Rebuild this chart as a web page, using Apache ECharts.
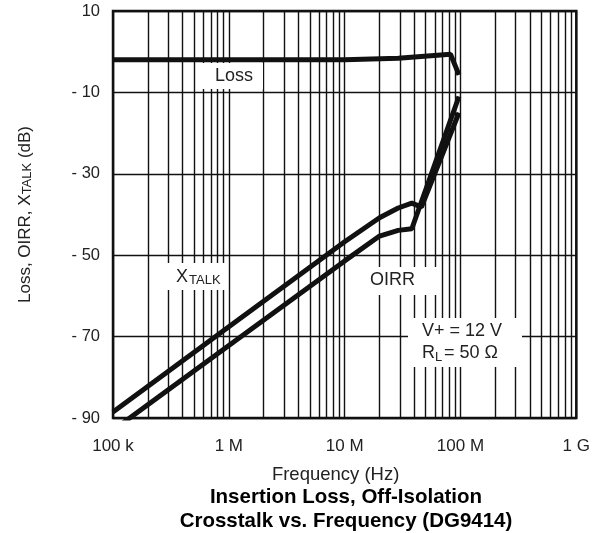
<!DOCTYPE html>
<html>
<head>
<meta charset="utf-8">
<script src="https://cdn.jsdelivr.net/npm/echarts@6/dist/echarts.min.js"></script>
<style>
  html, body { margin: 0; padding: 0; background: #fff; }
  #chart { width: 593px; height: 533px; }
</style>
</head>
<body>
<div id="chart"></div>
<script>
// 频率轴 (Hz)
const decadeTicks = [1e5, 1e6, 1e7, 1e8, 1e9]
const decadeLabels = ['100 k', '1 M', '10 M', '100 M', '1 G']
const minorSteps = [2, 3, 4, 5, 6, 7, 8, 9]

// Loss 曲线
const lossFreq = [1e5, 1e6, 1e7, 2.9e7, 8.2e7, 9.7e7]
const lossDb = [-2.0, -2.0, -2.0, -1.6, -0.6, -5.7]

// XTALK 曲线
const xtalkFreq = [1e5, 1e6, 1e7, 2e7, 2.9e7, 3.8e7, 4.6e7, 9.7e7]
const xtalkDb = [-88.5, -67.6, -46.7, -40.8, -38.4, -37.2, -38.2, -15]

// OIRR 曲线
const oirrFreq = [1e5, 1e6, 1e7, 2e7, 2.9e7, 3.8e7, 9.7e7]
const oirrDb = [-93, -72.2, -51.4, -45.3, -43.9, -43.5, -11]

const ink = '#111'
const textColor = '#222'
const font = 'Liberation Sans'

const pairs = (xs, ys) => xs.map((x, i) => [x, ys[i]])

// 次网格线 (2..9 × 每个十倍频)
const minorLines = []
decadeTicks.slice(0, -1).forEach(d => {
  minorSteps.forEach(m => minorLines.push({ xAxis: d * m }))
})

const curve = (name, data, extra) => Object.assign({
  name,
  type: 'line',
  data,
  symbol: 'none',
  smooth: false,
  lineStyle: { color: ink, width: 5 },
  z: 5
}, extra)

const labelBox = (x, y, w, h) => ({
  type: 'rect',
  z: 50,
  shape: { x, y, width: w, height: h },
  style: { fill: '#fff' }
})

const note = (x, y, text, size) => ({
  type: 'text',
  z: 51,
  x,
  y,
  style: {
    text,
    fill: textColor,
    font: size + 'px "' + font + '"',
    align: 'left',
    verticalAlign: 'middle'
  }
})

const chart = echarts.init(document.getElementById('chart'))

chart.setOption({
  animation: false,
  grid: {
    left: 113,
    right: 15,
    top: 11,
    bottom: 115,
    show: true,
    borderColor: ink,
    borderWidth: 2.5,
    backgroundColor: 'transparent'
  },
  xAxis: {
    type: 'log',
    logBase: 10,
    min: 1e5,
    max: 1e9,
    name: 'Frequency (Hz)',
    nameLocation: 'middle',
    nameGap: 47,
    nameTextStyle: { fontFamily: font, fontSize: 18.5, color: textColor, padding: [0, 18, 0, 0] },
    axisLine: { show: false },
    axisTick: { show: false },
    axisLabel: {
      margin: 20,
      fontFamily: font,
      fontSize: 17,
      color: textColor,
      formatter: v => {
        const i = decadeTicks.findIndex(t => Math.abs(Math.log10(t) - Math.log10(v)) < 1e-6)
        return i >= 0 ? decadeLabels[i] : ''
      }
    },
    splitLine: { show: true, lineStyle: { color: ink, width: 1.4 } }
  },
  yAxis: {
    type: 'value',
    min: -90,
    max: 10,
    interval: 20,
    name: '{a|Loss, OIRR, X}{s|TALK}{a| (dB)}',
    nameLocation: 'middle',
    nameGap: 79,
    nameTextStyle: {
      fontFamily: font,
      color: textColor,
      rich: {
        a: { fontFamily: font, fontSize: 17, color: textColor, verticalAlign: 'bottom', lineHeight: 18 },
        s: { fontFamily: font, fontSize: 13, color: textColor, verticalAlign: 'bottom', lineHeight: 11 }
      }
    },
    axisLine: { show: false },
    axisTick: { show: false },
    axisLabel: {
      margin: 13,
      fontFamily: font,
      fontSize: 16.5,
      color: textColor,
      formatter: v => (v < 0 ? '- ' + Math.abs(v) : String(v))
    },
    splitLine: { show: true, lineStyle: { color: ink, width: 1.4 } }
  },
  title: {
    text: 'Insertion Loss, Off-Isolation\nCrosstalk vs. Frequency (DG9414)',
    left: 341,
    top: 480,
    textAlign: 'center',
    textStyle: {
      fontFamily: font,
      fontSize: 20.5,
      fontWeight: 'bold',
      color: '#000',
      lineHeight: 24
    }
  },
  graphic: [
    labelBox(201, 63, 62, 26),
    note(215, 76, 'Loss', 18),
    labelBox(165, 263, 61, 27),
    note(176, 277, 'X', 18),
    note(189, 280, 'TALK', 13),
    labelBox(363, 267, 78, 28),
    note(370, 280, 'OIRR', 18),
    labelBox(408, 318, 114, 49),
    note(422, 331, 'V+ = 12 V', 18),
    note(422, 353, 'R', 18),
    note(435, 357, 'L', 13),
    note(444, 353, '= 50 Ω', 18)
  ],
  series: [
    curve('Loss', pairs(lossFreq, lossDb), {
      markLine: {
        silent: true,
        symbol: ['none', 'none'],
        label: { show: false },
        lineStyle: { color: ink, width: 1.4, type: 'solid' },
        data: minorLines,
        z: 1
      }
    }),
    curve('XTALK', pairs(xtalkFreq, xtalkDb)),
    curve('OIRR', pairs(oirrFreq, oirrDb))
  ]
})
</script>
</body>
</html>
